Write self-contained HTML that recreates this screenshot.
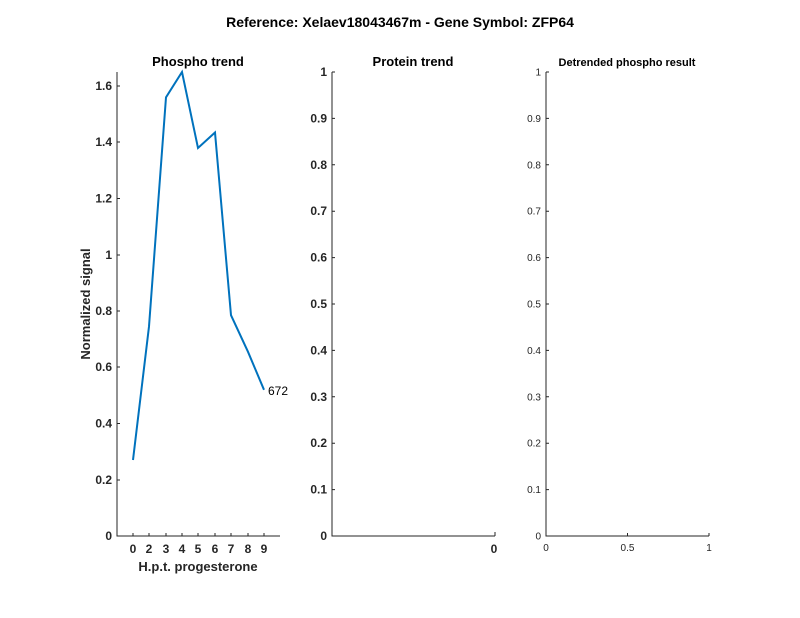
<!DOCTYPE html>
<html><head><meta charset="utf-8"><style>body{margin:0;background:#fff}svg{display:block}</style></head><body>
<svg width="800" height="618" xmlns="http://www.w3.org/2000/svg" font-family="Liberation Sans, sans-serif">
<rect width="800" height="618" fill="#fff"/>
<text x="400" y="27" font-size="14" font-weight="bold" text-anchor="middle">Reference:  Xelaev18043467m - Gene Symbol:  ZFP64</text>
<g stroke="#262626" stroke-width="1" fill="none">
<path d="M117,72V536H280"/>
<path d="M332,72V536H495"/>
<path d="M546,72V536H709"/>
</g>
<g stroke="#262626" stroke-width="1">
<path d="M117,86h3M117,142h3M117,198.5h3M117,255h3M117,311h3M117,367h3M117,423.5h3M117,480h3"/>
<path d="M133,536v-3M149,536v-3M166,536v-3M182,536v-3M198,536v-3M215,536v-3M231,536v-3M248,536v-3M264,536v-3"/>
<path d="M495,536v-4M627.5,536v-3M709,536v-3"/>
<path d="M332,72h3M332,118.4h3M332,164.8h3M332,211.2h3M332,257.6h3M332,304h3M332,350.4h3M332,396.8h3M332,443.2h3M332,489.6h3"/>
<path d="M546,72h3M546,118.4h3M546,164.8h3M546,211.2h3M546,257.6h3M546,304h3M546,350.4h3M546,396.8h3M546,443.2h3M546,489.6h3"/>
</g>
<g font-size="12" font-weight="bold" fill="#262626" text-anchor="end">
<text x="112" y="90">1.6</text><text x="112" y="146">1.4</text><text x="112" y="202.5">1.2</text><text x="112" y="259">1</text><text x="112" y="315">0.8</text><text x="112" y="371">0.6</text><text x="112" y="427.5">0.4</text><text x="112" y="484">0.2</text><text x="112" y="540">0</text>
<text x="327" y="76">1</text><text x="327" y="122.4">0.9</text><text x="327" y="168.8">0.8</text><text x="327" y="215.2">0.7</text><text x="327" y="261.6">0.6</text><text x="327" y="308">0.5</text><text x="327" y="354.4">0.4</text><text x="327" y="400.8">0.3</text><text x="327" y="447.2">0.2</text><text x="327" y="493.6">0.1</text><text x="327" y="540">0</text>
</g>
<g font-size="10" fill="#262626" text-anchor="end">
<text x="541" y="75.5">1</text><text x="541" y="121.9">0.9</text><text x="541" y="168.3">0.8</text><text x="541" y="214.7">0.7</text><text x="541" y="261.1">0.6</text><text x="541" y="307.5">0.5</text><text x="541" y="353.9">0.4</text><text x="541" y="400.3">0.3</text><text x="541" y="446.7">0.2</text><text x="541" y="493.1">0.1</text><text x="541" y="539.5">0</text>
</g>
<g font-size="10" fill="#262626" text-anchor="middle">
<text x="546" y="551">0</text><text x="627.5" y="551">0.5</text><text x="709" y="551">1</text>
</g>
<g font-size="12" font-weight="bold" fill="#262626" text-anchor="middle">
<text x="133" y="553">0</text><text x="149" y="553">2</text><text x="166" y="553">3</text><text x="182" y="553">4</text><text x="198" y="553">5</text><text x="215" y="553">6</text><text x="231" y="553">7</text><text x="248" y="553">8</text><text x="264" y="553">9</text>
<text x="198" y="571" font-size="13">H.p.t. progesterone</text>
<text x="198" y="66" font-size="13" fill="#000">Phospho trend</text>
<text x="413" y="66" font-size="13" fill="#000">Protein trend</text>
<text x="627" y="66" font-size="11" fill="#000">Detrended phospho result</text>
<text x="494" y="553">0</text>
</g>
<text transform="translate(90,304) rotate(-90)" font-size="13" font-weight="bold" fill="#262626" text-anchor="middle">Normalized signal</text>
<polyline fill="none" stroke="#0072BD" stroke-width="2" points="133,460 149,326.5 166,97.3 182,72 198,148 215,132.5 231,315.2 248,351.8 264,389.8"/>
<text x="268" y="395" font-size="12" fill="#000">672</text>
</svg>
</body></html>
